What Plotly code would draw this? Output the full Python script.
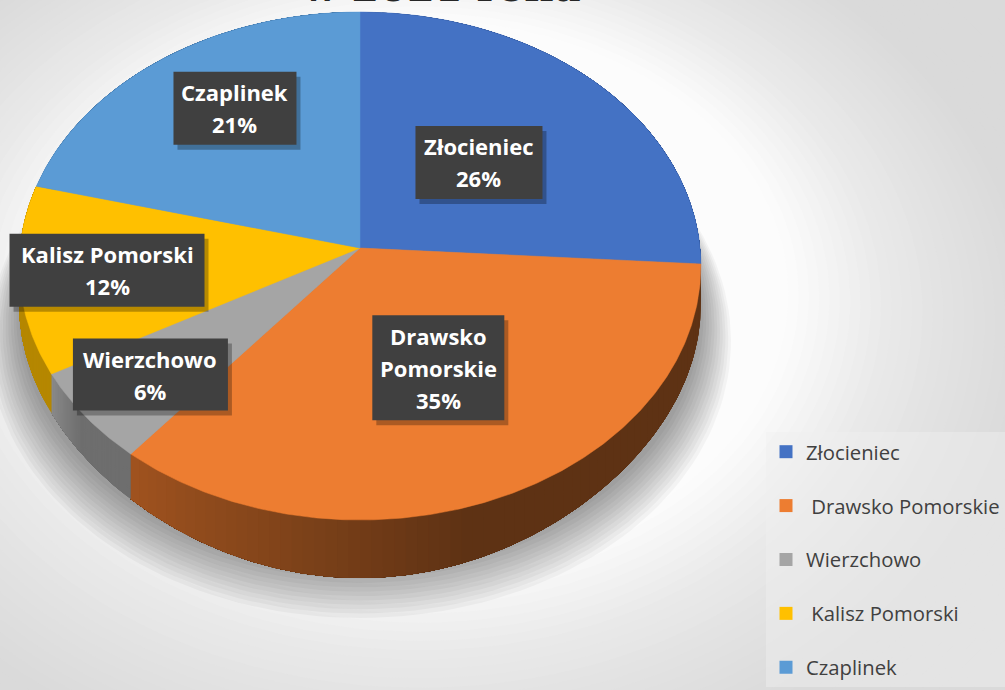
import numpy as np
import plotly.graph_objects as go

# ---------------- data ----------------
categories = ["Złocieniec", "Drawsko Pomorskie", "Wierzchowo", "Kalisz Pomorski", "Czaplinek"]
legend_names = ["Złocieniec", "\u00a0Drawsko Pomorskie", "Wierzchowo", "\u00a0Kalisz Pomorski", "Czaplinek"]
shares = [26, 35, 6, 12, 21]
label_lines = [["Złocieniec"], ["Drawsko", "Pomorskie"], ["Wierzchowo"], ["Kalisz Pomorski"], ["Czaplinek"]]
title_text = "w 2021 roku"

# ---------------- style ----------------
top_colors = ["#4472c4", "#ed7d31", "#a5a5a5", "#ffc000", "#5b9bd5"]
side_dark = ["#2f5190", "#5e3214", "#6e6e6e", "#b58700", "#3c6d9c"]
side_light = ["#34599e", "#a0531f", "#8a8a8a", "#d09c00", "#4a80b4"]
label_factor = [(0.48, 0.53), (0.58, 0.48), (0.80, 0.73), (0.75, 0.65), (0.60, 0.75)]
box_size = [(127, 73), (132, 105), (155, 72), (195, 73), (123, 73)]

W, H = 1005, 690
CX, CY = 360, 248
A, B, E = 340, 252.7, 0.0709   # projected disc: half-width, half-depth, perspective


def pt(theta_deg, s=1.0, dy=0.0, dx=0.0):
    t = np.radians(theta_deg)
    X, Z = np.sin(t) * s, np.cos(t) * s
    d = 1 + E * Z
    return CX + dx + A * X / d, CY - B * Z / d + dy


def thick(theta_deg):
    c = np.cos(np.radians(theta_deg))
    return 38 + 20 * np.where(c < 0, c ** 4, 0)


def hex2rgb(h):
    h = h.lstrip("#")
    return [int(h[i:i + 2], 16) for i in (0, 2, 4)]


def mix(c1, c2, f):
    a, b = hex2rgb(c1), hex2rgb(c2)
    return "rgb(%d,%d,%d)" % tuple(round(a[i] + (b[i] - a[i]) * f) for i in range(3))


fig = go.Figure()

# background glow
def bg_level(s):
    if s <= 1.1:
        return 252
    if s <= 1.4:
        return 252 - (s - 1.1) / 0.3 * 20
    return max(218, 232 - (s - 1.4) / 0.4 * 14)

full = np.linspace(0, 360, 181)
for s in np.arange(2.4, 1.05, -0.03):
    x, y = pt(full, s, 25, 60)
    g = int(round(bg_level(s)))
    fig.add_trace(go.Scatter(x=x, y=y, fill="toself", mode="lines",
                             line=dict(width=0), fillcolor="rgb(%d,%d,%d)" % (g, g, g),
                             hoverinfo="skip", showlegend=False))

# soft shadow under the pie
for k in range(12):
    s = 1.0 + 0.008 * k
    x, y = pt(full, s, 50 + 2 * k)
    fig.add_trace(go.Scatter(x=x, y=y, fill="toself", mode="lines",
                             line=dict(width=0), fillcolor="rgba(0,0,0,0.035)",
                             hoverinfo="skip", showlegend=False))

# slice angles
cum = np.concatenate([[0], np.cumsum(shares)]) / np.sum(shares) * 360.0

# sides (extrusion), overlapping segments so no seams show
for i in range(len(shares)):
    a, b = cum[i], cum[i + 1]
    nseg = 70
    edges = np.linspace(a, b, nseg + 1)
    for j in range(nseg):
        th = np.linspace(edges[j], b, max(6, int((b - edges[j]) * 2)))
        xt, yt = pt(th)
        xb, yb = pt(th[::-1])
        yb = yb + thick(th[::-1])
        frac = (j + 0.5) / nseg
        f = min(1.0, max(0.0, (frac - 0.55) / 0.45))
        col = mix(side_dark[i], side_light[i], f)
        fig.add_trace(go.Scatter(x=np.concatenate([xt, xb]), y=np.concatenate([yt, yb]),
                                 fill="toself", mode="lines", line=dict(width=0),
                                 fillcolor=col, hoverinfo="skip", showlegend=False))

# top faces
for i in range(len(shares)):
    a, b = cum[i], cum[i + 1]
    th = np.linspace(a, b, max(8, int((b - a) * 2)))
    xa, ya = pt(th)
    x = np.concatenate([[CX], xa, [CX]])
    y = np.concatenate([[CY], ya, [CY]])
    fig.add_trace(go.Scatter(x=x, y=y, fill="toself", mode="lines",
                             line=dict(width=0.5, color=top_colors[i]), fillcolor=top_colors[i],
                             name=categories[i], hoverinfo="name", showlegend=False))

# legend-only entries
for i in range(len(shares)):
    fig.add_trace(go.Scatter(x=[None], y=[None], mode="markers",
                             marker=dict(symbol="square", size=13, color=top_colors[i]),
                             name=legend_names[i], legendgroup="g%d" % i, showlegend=True))

# data labels
shapes = []
annotations = []
for i in range(len(shares)):
    mid = np.radians((cum[i] + cum[i + 1]) / 2)
    fx, fy = label_factor[i]
    ry = 236 if np.cos(mid) > 0 else 272
    lx = CX + A * fx * np.sin(mid)
    ly = CY - ry * fy * np.cos(mid)
    bw, bh = box_size[i]
    shapes.append(dict(type="rect", xref="x", yref="y", layer="above",
                       x0=lx - bw / 2 + 4, x1=lx + bw / 2 + 4, y0=ly - bh / 2 + 5, y1=ly + bh / 2 + 5,
                       fillcolor="rgba(0,0,0,0.28)", line=dict(width=0)))
    shapes.append(dict(type="rect", xref="x", yref="y", layer="above",
                       x0=lx - bw / 2, x1=lx + bw / 2, y0=ly - bh / 2, y1=ly + bh / 2,
                       fillcolor="#404040", line=dict(width=0)))
    lines = label_lines[i] + ["%d%%" % shares[i]]
    n = len(lines)
    for k, t in enumerate(lines):
        annotations.append(dict(x=lx, y=ly + (k - (n - 1) / 2) * 32, xref="x", yref="y",
                                text="<b>%s</b>" % t, showarrow=False,
                                xanchor="center", yanchor="middle",
                                font=dict(family="Open Sans", size=22, color="white")))

annotations.append(dict(x=441, y=12, xref="x", yref="y", text="<b>%s</b>" % title_text,
                        showarrow=False, xanchor="center", yanchor="bottom",
                        font=dict(family="DejaVu Serif", size=40, color="#262626")))

fig.update_layout(
    width=W, height=H, autosize=False,
    margin=dict(l=0, r=0, t=0, b=0, autoexpand=False),
    paper_bgcolor="#dcdcdc", plot_bgcolor="#dcdcdc",
    xaxis=dict(range=[0, W], visible=False, fixedrange=True),
    yaxis=dict(range=[H, 0], visible=False, fixedrange=True),
    shapes=shapes, annotations=annotations,
    showlegend=True,
    legend=dict(x=766 / W, y=1 - 432 / H, xanchor="left", yanchor="top",
                bgcolor="rgba(240,240,240,0.45)", tracegroupgap=24.5,
                font=dict(family="Open Sans", size=20.3, color="#404040"),
                itemclick=False, itemdoubleclick=False),
)

fig.write_html("out.html", config={"displayModeBar": False, "responsive": False},
               post_script="document.body.style.margin='0';document.body.style.overflow='hidden';")
